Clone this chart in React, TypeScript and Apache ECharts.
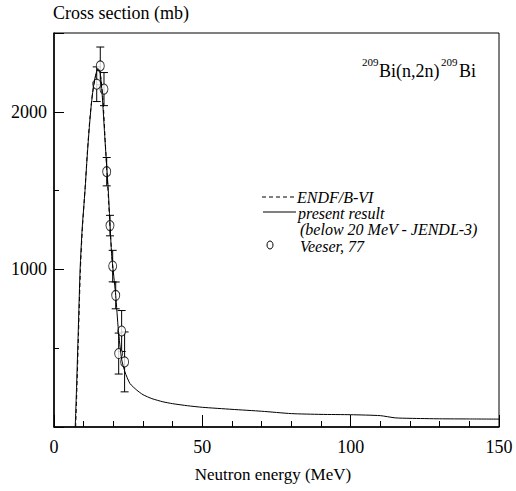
import React, { useEffect, useRef } from "react";
import * as echarts from "echarts";

// present result (solid)
const presentE = [7.15, 7.6, 8.1, 8.8, 9.5, 10.45, 11.2, 11.9, 12.6, 13.3, 14.0, 14.8, 15.5, 16.2, 17.2, 18.3, 18.9, 19.4, 19.8, 20.8, 21.7, 22.8, 23.9, 25.6, 27.9, 30, 33, 36.7, 40, 45, 50, 60, 70, 80, 90, 100, 110, 115, 120, 130, 140, 150];
const presentS = [0, 250, 560, 1000, 1260, 1500, 1720, 1900, 2050, 2160, 2230, 2275, 2255, 2120, 1816, 1500, 1278, 1100, 1021, 835, 614, 430, 350, 276, 234, 205, 180, 160, 148, 135, 125, 112, 100, 85, 80, 78, 72, 58, 55, 52, 51, 50];

// ENDF/B-VI (dashed)
const endfE = [7.3, 7.75, 8.25, 8.9, 9.6, 10.5, 11.3, 12.1, 13.0, 14.0, 14.8, 15.6, 16.5, 17.3, 18.2, 19.1, 20.0];
const endfS = [0, 260, 580, 1000, 1270, 1520, 1760, 1960, 2120, 2225, 2265, 2240, 2080, 1800, 1500, 1200, 960];

// Veeser, 77 (points with errors)
const veeserE = [14.4, 15.6, 16.85, 17.76, 18.87, 19.78, 20.8, 21.8, 22.8, 23.8];
const veeserS = [2175, 2291, 2144, 1620, 1278, 1021, 835, 466, 609, 413];
const veeserErr = [110, 120, 105, 90, 65, 100, 85, 130, 130, 190];

const xTickLabels = ["0", "50", "100", "150"];
const yTickLabels = ["1000", "2000"];

const FONT = "Liberation Serif";

export default function App() {
  const ref = useRef<HTMLDivElement>(null);
  useEffect(() => {
    document.body.style.margin = "0";
    const chart = echarts.init(ref.current!, null, { renderer: "svg" });
    const present = presentE.map((e, i) => [e, presentS[i]]);
    const endf = endfE.map((e, i) => [e, endfS[i]]);
    const pts = veeserE.map((e, i) => [e, veeserS[i]]);
    const errs = veeserE.map((e, i) => [e, veeserS[i] - veeserErr[i], veeserS[i] + veeserErr[i]]);
    const legendStyleText = { fill: "#000", fontFamily: FONT, fontStyle: "italic", fontSize: 16, textVerticalAlign: "middle" } as any;
    chart.setOption({
      animation: false,
      grid: { left: 54, top: 33, right: 17, bottom: 64, show: true, borderColor: "#000", borderWidth: 1 },
      xAxis: {
        type: "value", min: 0, max: 150, interval: 50,
        axisLine: { lineStyle: { color: "#000", width: 1.5 } },
        axisTick: { inside: true, length: 12, lineStyle: { color: "#000" } },
        minorTick: { show: true, splitNumber: 5, length: 6, lineStyle: { color: "#000" } },
        splitLine: { show: false },
        axisLabel: {
          color: "#000", fontFamily: FONT, fontSize: 18, margin: 11,
          formatter: (v: number) => (xTickLabels.includes(String(v)) ? String(v) : ""),
        },
      },
      yAxis: {
        type: "value", min: 0, max: 2500, interval: 1000,
        axisLine: { lineStyle: { color: "#000", width: 1.5 } },
        axisTick: { inside: true, length: 10, lineStyle: { color: "#000" } },
        minorTick: { show: true, splitNumber: 2, length: 5, lineStyle: { color: "#000" } },
        splitLine: { show: false },
        axisLabel: {
          color: "#000", fontFamily: FONT, fontSize: 18, margin: 7,
          formatter: (v: number) => (yTickLabels.includes(String(v)) ? String(v) : ""),
        },
      },
      series: [
        {
          type: "line", data: endf, showSymbol: false, smooth: 0.2,
          lineStyle: { color: "#000", width: 1, type: [4, 3] },
        },
        {
          type: "line", data: present, showSymbol: false, smooth: 0.2,
          lineStyle: { color: "#000", width: 1 },
        },
        {
          type: "custom", data: errs,
          renderItem: (params: any, api: any) => {
            const x = api.value(0);
            const top = api.coord([x, api.value(2)]);
            const bot = api.coord([x, api.value(1)]);
            const s = { stroke: "#000", lineWidth: 1 };
            return {
              type: "group",
              children: [
                { type: "line", shape: { x1: top[0], y1: top[1], x2: bot[0], y2: bot[1] }, style: s },
                { type: "line", shape: { x1: top[0] - 4, y1: top[1], x2: top[0] + 4, y2: top[1] }, style: s },
                { type: "line", shape: { x1: bot[0] - 4, y1: bot[1], x2: bot[0] + 4, y2: bot[1] }, style: s },
              ],
            };
          },
        },
        {
          type: "scatter", data: pts, symbol: "circle", symbolSize: [8, 10],
          itemStyle: { color: "#fff", borderColor: "#000", borderWidth: 1 },
        },
      ],
      graphic: [
        { type: "text", left: 53, top: 4, style: { text: "Cross section (mb)", fill: "#000", fontFamily: FONT, fontSize: 18 } },
        { type: "text", x: 273, y: 474, style: { text: "Neutron energy (MeV)", fill: "#000", fontFamily: FONT, fontSize: 17, textAlign: "center", textVerticalAlign: "middle" } },
        { type: "text", x: 362, y: 62, style: { text: "209", fill: "#000", fontFamily: FONT, fontSize: 11, textVerticalAlign: "middle" } },
        { type: "text", x: 379, y: 71, style: { text: "Bi(n,2n)", fill: "#000", fontFamily: FONT, fontSize: 18, textVerticalAlign: "middle" } },
        { type: "text", x: 441, y: 62, style: { text: "209", fill: "#000", fontFamily: FONT, fontSize: 11, textVerticalAlign: "middle" } },
        { type: "text", x: 459, y: 71, style: { text: "Bi", fill: "#000", fontFamily: FONT, fontSize: 18, textVerticalAlign: "middle" } },
        { type: "line", shape: { x1: 262, y1: 197, x2: 295, y2: 197 }, style: { stroke: "#000", lineWidth: 1, lineDash: [4, 3] } },
        { type: "text", x: 297, y: 197, style: { ...legendStyleText, text: "ENDF/B-VI" } },
        { type: "line", shape: { x1: 263, y1: 212, x2: 296, y2: 212 }, style: { stroke: "#000", lineWidth: 1 } },
        { type: "text", x: 298, y: 213, style: { ...legendStyleText, text: "present result" } },
        { type: "text", x: 300, y: 229, style: { ...legendStyleText, text: "(below 20 MeV - JENDL-3)" } },
        { type: "ellipse", shape: { cx: 270, cy: 245, rx: 3, ry: 4 }, style: { fill: "#fff", stroke: "#000", lineWidth: 1 } },
        { type: "text", x: 300, y: 246, style: { ...legendStyleText, text: "Veeser, 77" } },
      ],
    });
    return () => chart.dispose();
  }, []);
  return <div ref={ref} style={{ width: 516, height: 491 }} />;
}
